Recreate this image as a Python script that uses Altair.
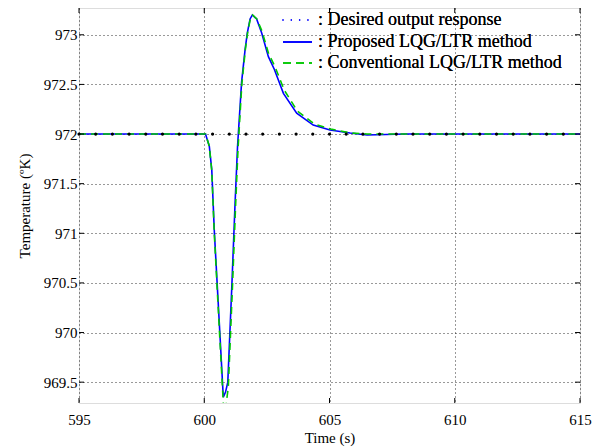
import altair as alt
import pandas as pd

# ---- data ----
time_proposed = [595, 600.05, 600.2, 600.3, 600.4, 600.63, 600.76, 600.85, 600.94, 601.1, 601.23,
                 601.33, 601.49, 601.63, 601.72, 601.83, 601.92, 602.09, 602.29, 602.56, 602.8,
                 603.16, 603.69, 604.35, 605.02, 605.82, 606.5, 608, 615]
temp_proposed = [972, 972, 971.88, 971.64, 971.03, 969.96, 969.35, 969.4, 969.5, 970.46, 971.3,
                 971.88, 972.52, 972.85, 973.02, 973.16, 973.2, 973.16, 973.02, 972.78, 972.65,
                 972.41, 972.21, 972.09, 972.04, 972.01, 971.99, 972.0, 972.0]

time_conv = [595, 600.05, 600.2, 600.3, 600.4, 600.63, 600.78, 600.86, 600.96, 601.12, 601.25,
             601.35, 601.5, 601.64, 601.73, 601.84, 601.93, 602.1, 602.3, 602.57, 602.82,
             603.2, 603.72, 604.4, 605.05, 605.85, 606.5, 608, 615]
temp_conv = [972, 972, 971.88, 971.63, 971.0, 969.9, 969.2, 969.25, 969.45, 970.42, 971.27,
             971.86, 972.5, 972.85, 973.02, 973.16, 973.2, 973.16, 973.04, 972.81, 972.68,
             972.44, 972.23, 972.1, 972.05, 972.01, 972.0, 972.0, 972.0]

time_desired = [595, 615]
temp_desired = [972, 972]

x_ticks = [595, 600, 605, 610, 615]
y_ticks = [969.5, 970, 970.5, 971, 971.5, 972, 972.5, 973]

legend_labels = [": Desired output response", ": Proposed LQG/LTR method",
                 ": Conventional LQG/LTR method"]

x_title = "Time (s)"
y_title = "Temperature (ºK)"

# ---- chart ----
W, H = 501, 395
FONT = "Liberation Serif"
BLUE = "#0000ff"
GREEN = "#00c800"

xs = alt.Scale(domain=[595, 615], nice=False, zero=False)
ys = alt.Scale(domain=[969.29, 973.27], nice=False, zero=False)

df_p = pd.DataFrame({"t": time_proposed, "v": temp_proposed})
df_c = pd.DataFrame({"t": time_conv, "v": temp_conv})
df_d = pd.DataFrame({"t": time_desired, "v": temp_desired})
df_xt = pd.DataFrame({"t": x_ticks})
df_yt = pd.DataFrame({"v": y_ticks})

xaxis = alt.Axis(values=x_ticks, format="d", grid=True, gridDash=[1, 3], gridColor="#000",
                 gridOpacity=0.8, gridWidth=1, tickSize=0, domain=False, labelPadding=9,
                 labelFlush=False, labelOverlap=False,
                 labelFont=FONT, labelFontSize=15, labelColor="#000", title=x_title,
                 titleFont=FONT, titleFontSize=15, titleFontWeight="normal", titleColor="#000",
                 titlePadding=3)
yaxis = alt.Axis(values=y_ticks, format=".1~f", grid=True, gridDash=[1, 3], gridColor="#000",
                 gridOpacity=0.8, gridWidth=1, tickSize=0, domain=False, labelPadding=2,
                 labelFlush=False, labelOverlap=False,
                 labelFont=FONT, labelFontSize=15, labelColor="#000", title=y_title,
                 titleFont=FONT, titleFontSize=15, titleFontWeight="normal", titleColor="#000",
                 titlePadding=11)

proposed = alt.Chart(df_p).mark_line(color=BLUE, strokeWidth=1.6, clip=True).encode(
    x=alt.X("t:Q", scale=xs, axis=xaxis),
    y=alt.Y("v:Q", scale=ys, axis=yaxis),
)
conventional = alt.Chart(df_c).mark_line(color=GREEN, strokeWidth=1.6, strokeDash=[7, 5],
                                         clip=True).encode(
    x=alt.X("t:Q", scale=xs), y=alt.Y("v:Q", scale=ys))
desired = alt.Chart(df_d).mark_line(color="#000", strokeWidth=3.2, strokeDash=[0.01, 16.69],
                                    strokeCap="round").encode(
    x=alt.X("t:Q", scale=xs), y=alt.Y("v:Q", scale=ys))

# inward ticks on all four sides
tb = alt.Chart(df_xt).mark_rule(color="#000", strokeWidth=1)
ticks_bottom = tb.encode(x=alt.X("t:Q", scale=xs), y=alt.value(H), y2=alt.value(H - 5))
ticks_top = tb.encode(x=alt.X("t:Q", scale=xs), y=alt.value(0), y2=alt.value(5))
tl = alt.Chart(df_yt).mark_rule(color="#000", strokeWidth=1)
ticks_left = tl.encode(y=alt.Y("v:Q", scale=ys), x=alt.value(0), x2=alt.value(5))
ticks_right = tl.encode(y=alt.Y("v:Q", scale=ys), x=alt.value(W), x2=alt.value(W - 5))

# legend (no box)
LX0, LX1, LT = 204, 233, 239
rows = [12, 34, 55]
leg_sym = [
    alt.Chart(df_d).mark_rule(color=BLUE, strokeWidth=1.5, strokeDash=[0.01, 8.3],
                              strokeCap="round").encode(
        x=alt.value(LX0), x2=alt.value(LX1 + 1), y=alt.value(rows[0])),
    alt.Chart(df_d).mark_rule(color=BLUE, strokeWidth=1.6).encode(
        x=alt.value(LX0), x2=alt.value(LX1), y=alt.value(rows[1])),
    alt.Chart(df_d).mark_rule(color=GREEN, strokeWidth=1.6, strokeDash=[8, 5]).encode(
        x=alt.value(LX0), x2=alt.value(LX1), y=alt.value(rows[2])),
]
leg_txt = [
    alt.Chart(df_d).mark_text(text=lab, align="left", baseline="middle", font=FONT,
                              fontSize=18, color="#000").encode(
        x=alt.value(LT), y=alt.value(r))
    for lab, r in zip(legend_labels, rows)
]

chart = alt.layer(
    proposed, conventional, desired,
    ticks_bottom, ticks_top, ticks_left, ticks_right,
    *leg_sym, *leg_txt,
).properties(
    width=W, height=H,
    autosize=alt.AutoSizeParams(type="none"),
    padding={"left": 71, "top": 0, "right": 20, "bottom": 44},
).configure_view(
    stroke="#000", strokeWidth=2
).configure(background="white")

chart.save("out.html", embed_options={"renderer": "svg", "actions": False})
